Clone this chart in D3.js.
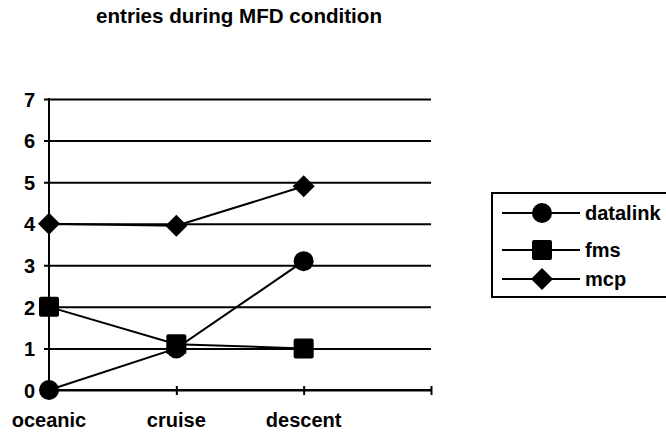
<!DOCTYPE html>
<html><head><meta charset="utf-8">
<script src="https://cdn.jsdelivr.net/npm/d3@7"></script>
<style>
html,body{margin:0;padding:0;background:#fff;}
text{font-family:"Liberation Sans",Arial,sans-serif;font-weight:bold;fill:#000;}
</style></head>
<body><svg id="c" width="666" height="433"></svg>
<script>
const categories = ["oceanic","cruise","descent",""];
const seriesNames = ["datalink","fms","mcp"];
const datalink = [0, 1.0, 3.1];
const fms = [2, 1.1, 1.0];
const mcp = [4, 3.95, 4.9];
const yTicks = [0,1,2,3,4,5,6,7];
const title = "entries during MFD condition";

const svg = d3.select("#c");
const x = d3.scalePoint().domain(categories).range([49,431]);
const y = d3.scaleLinear().domain([0,7]).range([390,99]);

svg.append("text").attr("x",239).attr("y",23).attr("text-anchor","middle")
  .style("font-size","20.6px").text(title);

// y axis with gridlines
const ya = svg.append("g").attr("transform","translate(49,0)")
  .call(d3.axisLeft(y).tickValues(yTicks).tickFormat(d3.format("d")).tickSize(5));
ya.select(".domain").remove();
ya.selectAll(".tick line").attr("x1",-5).attr("x2",x("")-49).attr("stroke","#000").attr("stroke-width",2);
ya.selectAll(".tick text").attr("x",-14).style("font-size","20px").style("font-family","Liberation Sans, Arial, sans-serif").style("font-weight","bold").attr("dy","0.36em");
svg.append("line").attr("x1",49).attr("x2",49).attr("y1",y(7)-1).attr("y2",y(0)+1).attr("stroke","#000").attr("stroke-width",2);

// x axis
const xa = svg.append("g").attr("transform","translate(0,"+y(0)+")")
  .call(d3.axisBottom(x).tickSize(4).tickFormat(""));
xa.select(".domain").attr("d","M49,0H431").attr("stroke","#000").attr("stroke-width",2);
xa.selectAll(".tick line").attr("y1",-4).attr("y2",5).attr("stroke","#000").attr("stroke-width",2);
categories.forEach(c=>{ if(c) svg.append("text").attr("x",x(c)).attr("y",427).attr("text-anchor","middle").style("font-size","20px").text(c); });

const sym = {
  datalink: (g,cx,cy)=>g.append("circle").attr("cx",cx).attr("cy",cy).attr("r",10),
  fms: (g,cx,cy)=>g.append("rect").attr("x",cx-10).attr("y",cy-10).attr("width",20).attr("height",20).attr("rx",2),
  mcp: (g,cx,cy)=>g.append("path").attr("d",`M${cx},${cy-11}L${cx+11},${cy}L${cx},${cy+11}L${cx-11},${cy}Z`)
};
const data = {datalink, fms, mcp};
const line = d3.line().x((d,i)=>x(categories[i])).y(d=>y(d));
seriesNames.forEach(n=>{
  const g = svg.append("g");
  g.append("path").attr("d",line(data[n])).attr("fill","none").attr("stroke","#000").attr("stroke-width",2);
  data[n].forEach((v,i)=>sym[n](g,x(categories[i]),y(v)).attr("fill","#000"));
});

// legend
const lg = svg.append("g");
lg.append("rect").attr("x",492).attr("y",193).attr("width",180).attr("height",104).attr("fill","none").attr("stroke","#000").attr("stroke-width",2);
const rows = [213,250,279];
seriesNames.forEach((n,i)=>{
  lg.append("line").attr("x1",502).attr("x2",580).attr("y1",rows[i]).attr("y2",rows[i]).attr("stroke","#000").attr("stroke-width",2);
  sym[n](lg,542,rows[i]).attr("fill","#000");
  lg.append("text").attr("x",585).attr("y",rows[i]+7).style("font-size","20px").text(n);
});
</script></body></html>
